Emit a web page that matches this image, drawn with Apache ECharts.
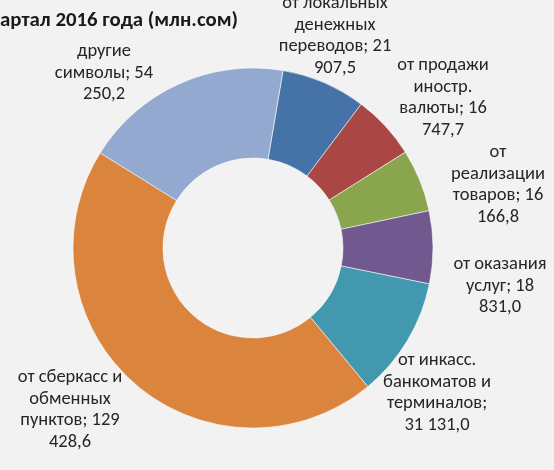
<!DOCTYPE html>
<html>
  <head>
    <meta charset="utf-8" />
    <title>Структура поступлений</title>
    <script src="https://cdn.jsdelivr.net/npm/echarts@6/dist/echarts.min.js"></script>
    <style>
      * {
        margin: 0;
        padding: 0;
        box-sizing: border-box;
      }
      body {
        background: #f2f2f2;
      }
    </style>
  </head>
  <body>
    <div id="main" style="width: 554px; height: 470px"></div>
    <script type="text/javascript">
      var myChart = echarts.init(document.getElementById("main"));

      const titleText = "артал 2016 года (млн.сом)";

      const categories = [
        "от локальных денежных переводов",
        "от продажи иностр. валюты",
        "от реализации товаров",
        "от оказания услуг",
        "от инкасс. банкоматов и терминалов",
        "от сберкасс и обменных пунктов",
        "другие символы",
      ];
      const values = [21907.5, 16747.7, 16166.8, 18831.0, 31131.0, 129428.6, 54250.2];
      const colors = ["#4572a7", "#aa4643", "#89a54e", "#71588f", "#4198af", "#db843d", "#93a9cf"];

      // label placement (centre of each text block) and wrap width
      const labelPos = [
        [335, 36], [443, 98], [498, 185], [500, 286],
        [437, 393], [70, 410], [104, 73],
      ];
      const labelWidth = [120, 100, 105, 105, 118, 118, 105];

      const FONT = "Carlito, 'Liberation Sans', Arial, sans-serif";
      const LABEL_SIZE = 18.5;

      function fmt(v) {
        const parts = v.toFixed(1).split(".");
        const int = parts[0].replace(/\B(?=(\d{3})+(?!\d))/g, " ");
        return int + "," + parts[1];
      }

      // wrap words like Excel does, breaking only at spaces
      const ctx = document.createElement("canvas").getContext("2d");
      ctx.font = LABEL_SIZE + "px " + FONT;
      function wrap(text, maxW) {
        const words = text.split(" ");
        const lines = [];
        let cur = "";
        words.forEach((w) => {
          const test = cur ? cur + " " + w : w;
          if (cur && ctx.measureText(test).width > maxW) {
            lines.push(cur);
            cur = w;
          } else {
            cur = test;
          }
        });
        if (cur) lines.push(cur);
        return lines.join("\n");
      }

      var option = {
        backgroundColor: "#f2f2f2",
        title: {
          text: titleText,
          left: -5,
          top: 5,
          textStyle: {
            fontFamily: FONT,
            fontSize: 20.8,
            fontWeight: "bold",
            color: "#1a1a1a",
          },
        },
        series: [
          {
            type: "pie",
            center: [253, 248],
            radius: [90, 180],
            startAngle: 80.4,
            clockwise: true,
            avoidLabelOverlap: false,
            itemStyle: {
              borderColor: "rgba(255,255,255,0.55)",
              borderWidth: 1,
            },
            emphasis: { disabled: true },
            label: {
              show: true,
              position: "outside",
              formatter: (p) =>
                wrap(p.name + "; " + fmt(p.value), labelWidth[p.dataIndex]),
              fontFamily: FONT,
              fontSize: LABEL_SIZE,
              lineHeight: 21.7,
              color: "#262626",
              overflow: "none",
              align: "center",
            },
            labelLine: { show: false },
            labelLayout: function (params) {
              const pos = labelPos[params.dataIndex];
              return {
                x: pos[0],
                y: pos[1],
                align: "center",
                verticalAlign: "middle",
              };
            },
            data: categories.map((name, i) => ({
              name: name,
              value: values[i],
              itemStyle: { color: colors[i] },
            })),
          },
        ],
      };

      myChart.setOption(option);
    </script>
  </body>
</html>
